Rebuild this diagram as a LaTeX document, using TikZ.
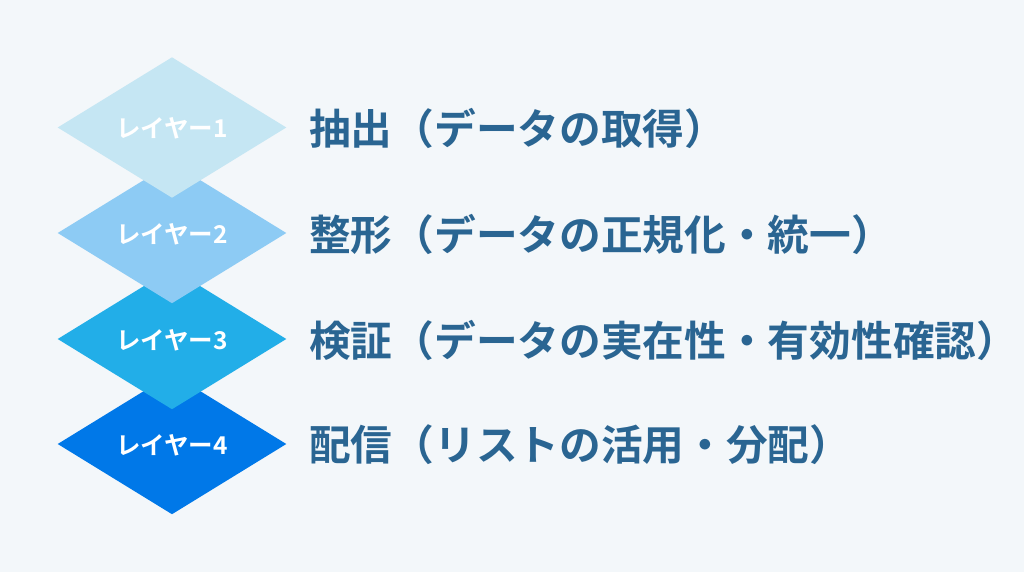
\documentclass[tikz,border=0pt]{standalone}
\usepackage{fontspec}
\newfontfamily\jpbold[BoldFont={Noto Sans CJK JP Bold}]{Noto Sans CJK JP}
\definecolor{bgc}{HTML}{F3F7FA}
\definecolor{cA}{HTML}{C5E6F3}
\definecolor{cB}{HTML}{8DCBF4}
\definecolor{cC}{HTML}{22AEE8}
\definecolor{cD}{HTML}{0078E8}
\definecolor{txt}{HTML}{2A6592}
\tikzset{
  dia/.style={fill=#1, draw=none},
  dlabel/.style={text=white, font=\jpbold\bfseries\fontsize{24.5}{28}\selectfont, inner sep=0pt},
  mlabel/.style={text=txt, font=\jpbold\bfseries\fontsize{41.7}{48}\selectfont, anchor=west, inner sep=0pt}
}
\begin{document}
\begin{tikzpicture}[x=1pt,y=-1pt]
\fill[bgc] (0,0) rectangle (1024,572);
\useasboundingbox (0,0) rectangle (1024,572);
\foreach \cy/\col [count=\i] in {444/cD,339/cC,233/cB,127.5/cA}{
  \fill[dia=\col] (172,\cy-70.2) -- (286.3,\cy) -- (172,\cy+70.2) -- (57.7,\cy) -- cycle;
}
\node[dlabel] (l1) at (172,128) {レイヤー1};
\node[dlabel] (l2) at (172,234) {レイヤー2};
\node[dlabel] (l3) at (172,340) {レイヤー3};
\node[dlabel] (l4) at (172,445) {レイヤー4};
\node[mlabel] (t1) at (309,128) {抽出（データの取得）};
\node[mlabel] (t2) at (309,234) {整形（データの正規化・統一）};
\node[mlabel] (t3) at (309,340) {検証（データの実在性・有効性確認）};
\node[mlabel] (t4) at (309,445) {配信（リストの活用・分配）};
\end{tikzpicture}
\end{document}
